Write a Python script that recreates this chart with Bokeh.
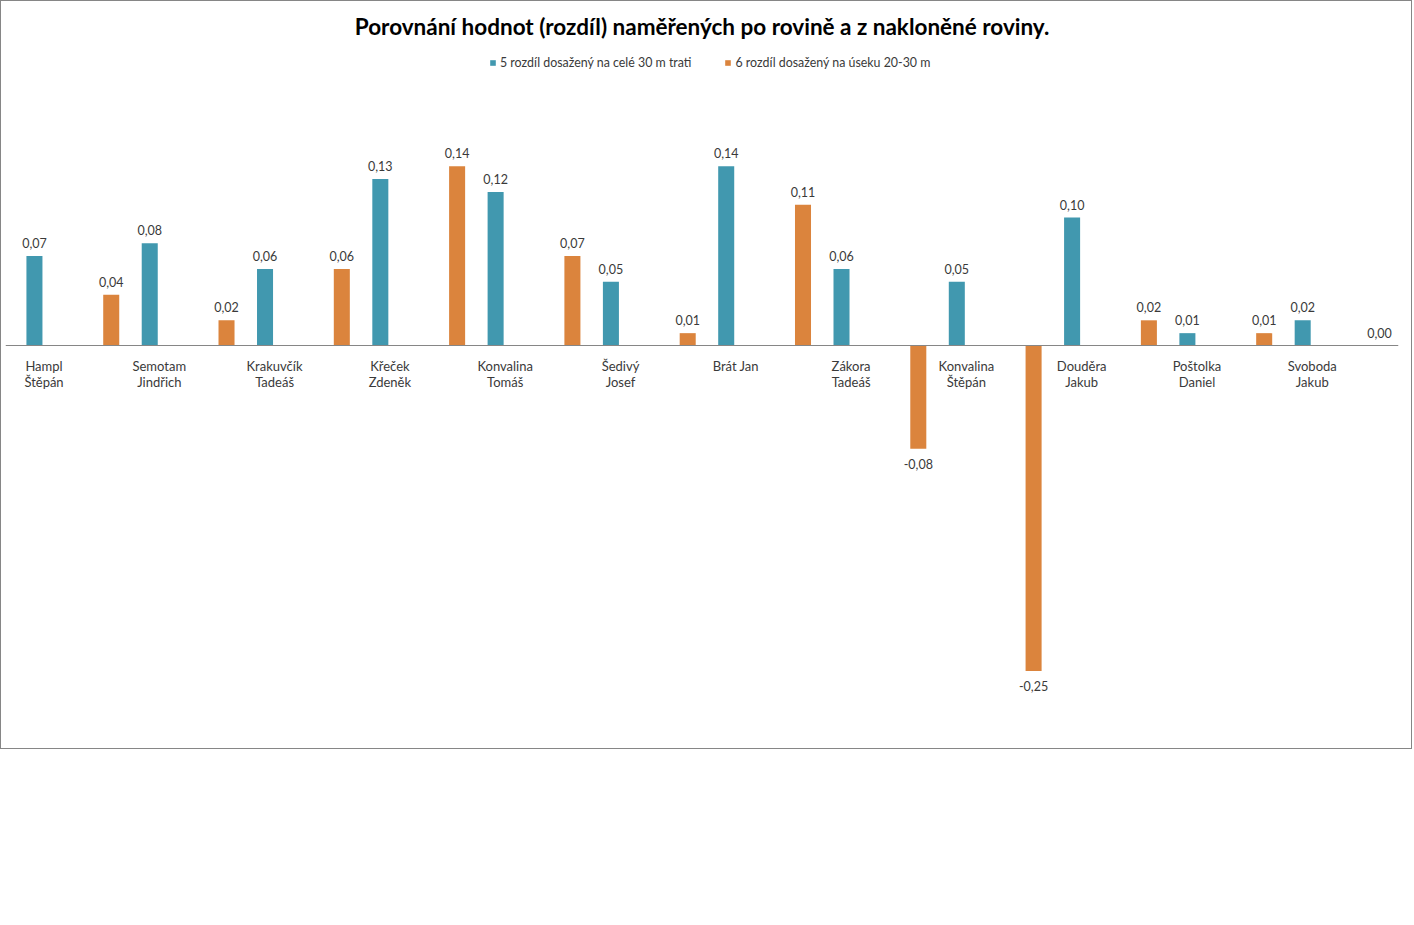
from bokeh.plotting import figure
from bokeh.models import ColumnDataSource, FixedTicker, Range1d, Legend, LegendItem
from bokeh.core.properties import value
from bokeh.transform import dodge
from bokeh.embed import file_html
from bokeh.resources import INLINE

# ---- data ----
names = ["Hampl\nŠtěpán", "Semotam\nJindřich", "Krakuvčík\nTadeáš", "Křeček\nZdeněk",
         "Konvalina\nTomáš", "Šedivý\nJosef", "Brát Jan", "Zákora\nTadeáš",
         "Konvalina\nŠtěpán", "Douděra\nJakub", "Poštolka\nDaniel", "Svoboda\nJakub"]
diff_full_30m = [0.07, 0.08, 0.06, 0.13, 0.12, 0.05, 0.14, 0.06, 0.05, 0.10, 0.01, 0.02]
diff_20_30m = [0.04, 0.02, 0.06, 0.14, 0.07, 0.01, 0.11, -0.08, -0.253, 0.02, 0.01, 0.00]
series_names = ["5 rozdíl dosažený na celé 30 m trati", "6 rozdíl dosažený na úseku 20-30 m"]
title_text = "Porovnání hodnot (rozdíl) naměřených po rovině a z nakloněné roviny."

BLUE = "#4198AF"
ORANGE = "#DB843D"
FONT = "Lato"
TXT = "#3a3a3a"

idx = list(range(len(names)))


def fmt(v):
    return f"{v:.2f}".replace(".", ",")


def make_src(vals):
    return ColumnDataSource(dict(
        idx=idx, val=vals,
        lab=[fmt(v) for v in vals],
        yoff=[15 if v < 0 else -13 for v in vals],
    ))


src_a = make_src(diff_full_30m)
src_b = make_src(diff_20_30m)

p = figure(width=1412, height=749, output_backend="svg", toolbar_location=None,
           x_range=Range1d(-0.334, 11.748), y_range=Range1d(-0.3111, 0.234),
           min_border_left=4, min_border_right=15, min_border_top=44, min_border_bottom=5)
p.styles = {"border": "1px solid #868686"}
p.outline_line_color = None
p.xgrid.visible = False
p.ygrid.visible = False
p.yaxis.visible = False

p.title.text = title_text
p.title.align = "center"
p.title.text_font = FONT
p.title.text_font_style = "bold"
p.title.text_font_size = "22.5px"
p.title.text_color = "#000000"
p.title.standoff = 12

OFF_A = -0.083
OFF_B = 0.583
W = 0.139

r_a = p.vbar(x=dodge("idx", OFF_A, range=p.x_range), top="val", bottom=0, width=W,
             source=src_a, fill_color=BLUE, line_color=None)
r_b = p.vbar(x=dodge("idx", OFF_B, range=p.x_range), top="val", bottom=0, width=W,
             source=src_b, fill_color=ORANGE, line_color=None)

for src, off in ((src_a, OFF_A), (src_b, OFF_B)):
    p.text(x=dodge("idx", off, range=p.x_range), y="val", text="lab", source=src,
           y_offset="yoff", text_align="center", text_baseline="middle",
           text_font=value(FONT), text_font_size="12.5px", text_color=TXT)

ax = p.xaxis[0]
ax.fixed_location = 0
ax.ticker = FixedTicker(ticks=idx)
ax.major_label_overrides = {i: n for i, n in zip(idx, names)}
ax.axis_line_color = "#868686"
ax.major_tick_line_color = None
ax.minor_tick_line_color = None
ax.major_label_standoff = 6
ax.major_label_text_font = FONT
ax.major_label_text_font_size = "13px"
ax.major_label_text_line_height = 1.0
ax.major_label_text_color = TXT

legend = Legend(items=[LegendItem(label=series_names[0], renderers=[r_a]),
                       LegendItem(label=series_names[1], renderers=[r_b])],
                orientation="horizontal", location=(484, 675),
                glyph_width=7, glyph_height=7, label_standoff=4, spacing=33,
                label_height=14, padding=2, margin=0,
                background_fill_alpha=0, border_line_color=None,
                label_text_font=FONT, label_text_font_size="12.4px", label_text_color=TXT)
p.add_layout(legend)

open("out.html", "w").write(file_html(p, INLINE))
